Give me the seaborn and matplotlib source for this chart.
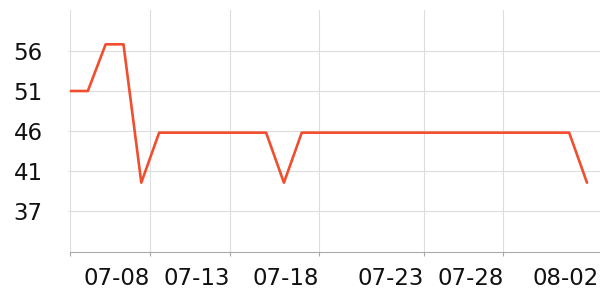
import matplotlib
matplotlib.use("Agg")
import matplotlib.pyplot as plt
import seaborn as sns
import pandas as pd

# Data
dates = [f"07-{d:02d}" for d in range(4, 32)] + ["08-01", "08-02"]
values = [51, 51, 56.6, 56.6, 40,
          46, 46, 46, 46, 46, 46, 46,
          40,
          46, 46, 46, 46, 46, 46, 46, 46, 46, 46, 46, 46, 46, 46, 46, 46,
          40]
tick_labels = ["", "07-08", "07-13", "07-18", "07-23", "07-28", "08-02"]
tick_pos = [0, 4.49, 8.97, 13.99, 19.83, 24.31, 29.68]
y_ticks = [36.6, 41.4, 46.2, 51.0, 55.8]

df = pd.DataFrame({"idx": range(len(dates)), "date": dates, "value": values})

sns.set_theme(style="white")
plt.rcParams["font.family"] = ["DejaVu Sans"]

fig = plt.figure(figsize=(6, 3), dpi=100)
ax = fig.add_axes([70 / 600, 48 / 300, 530 / 600, 242 / 300])

sns.lineplot(data=df, x="idx", y="value", ax=ax, color="#F04E2E", linewidth=1.9)

ax.set_xlim(0, 29.73)
ax.set_ylim(31.68, 60.72)
ax.set_xticks(tick_pos)
ax.set_xticklabels(tick_labels, ha="right")
ax.set_yticks(y_ticks)
ax.yaxis.set_major_formatter(matplotlib.ticker.FormatStrFormatter("%.0f"))

ax.grid(True, color="#dddddd", linewidth=0.8)
ax.set_axisbelow(True)
for s in ["left", "right", "top"]:
    ax.spines[s].set_visible(False)
ax.spines["bottom"].set_color("#aaaaaa")
ax.spines["bottom"].set_linewidth(0.8)

ax.tick_params(axis="x", length=3, width=0.8, color="#aaaaaa", pad=8,
               labelsize=16.5, labelcolor="#111111", bottom=True)
ax.tick_params(axis="y", length=1.5, width=0.8, color="#dddddd", pad=18,
               labelsize=16.5, labelcolor="#111111", left=True)
ax.set_xlabel("")
ax.set_ylabel("")

# last tick (at the right edge) shows only its label
last = ax.xaxis.get_major_ticks()[-1]
last.gridline.set_visible(False)
last.tick1line.set_visible(False)

fig.savefig("out.png", dpi=100)
